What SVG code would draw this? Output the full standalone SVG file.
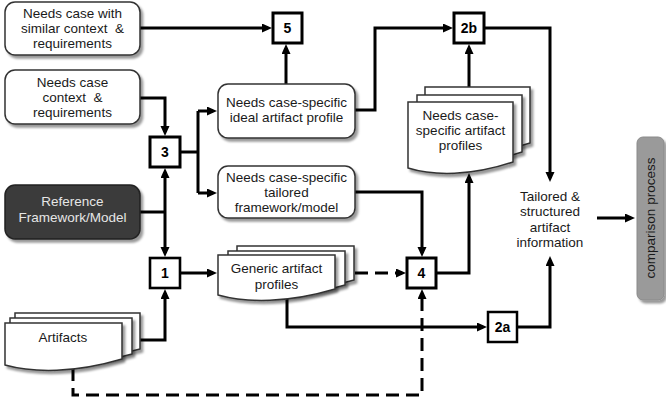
<svg xmlns="http://www.w3.org/2000/svg" width="666" height="404" viewBox="0 0 666 404">
<defs>
<filter id="sh" x="-10%" y="-10%" width="130%" height="140%">
<feDropShadow dx="2.5" dy="3" stdDeviation="1.3" flood-color="#000" flood-opacity="0.4"/>
</filter>
<marker id="ah" markerUnits="userSpaceOnUse" markerWidth="11" markerHeight="10" refX="6" refY="4.5" orient="auto-start-reverse">
<path d="M0,0 L10,4.5 L0,9 z" fill="#000"/>
</marker>
<style>
.t{font-family:"Liberation Sans",Arial,sans-serif;font-size:13.5px;fill:#1a1a1a;text-anchor:middle;white-space:pre}
.w{fill:#e6e6e6}
.n{font-family:"Liberation Sans",Arial,sans-serif;font-size:14px;font-weight:bold;fill:#000;text-anchor:middle}
.rb{fill:#fff;stroke:#333;stroke-width:1.5;filter:url(#sh)}
.dk{fill:#3a3a3a;stroke:#222;stroke-width:1.5;filter:url(#sh)}
.doc{fill:#fff;stroke:#333;stroke-width:1.5;filter:url(#sh)}
.nb{fill:#fff;stroke:#000;stroke-width:3}
.c{fill:none;stroke:#000;stroke-width:3}
.d{fill:none;stroke:#000;stroke-width:3;stroke-dasharray:13 7}
</style>
</defs>

<g id="connectors">
<path class="c" d="M140,28 H268" marker-end="url(#ah)"/>
<path class="c" d="M140,98 H165 V132" marker-end="url(#ah)"/>
<path class="c" d="M180,152 H198"/>
<path class="c" d="M198,111 V193"/>
<path class="c" d="M198,111 H213" marker-end="url(#ah)"/>
<path class="c" d="M198,193 H213" marker-end="url(#ah)"/>
<path class="c" d="M140,212 H165"/>
<path class="c" d="M165,172 V253" marker-start="url(#ah)" marker-end="url(#ah)"/>
<path class="c" d="M140,340 H165 V293" marker-end="url(#ah)"/>
<path class="c" d="M180,273 H213" marker-end="url(#ah)"/>
<path class="c" d="M286,84 V48" marker-end="url(#ah)"/>
<path class="c" d="M355,110 H375 V28 H449" marker-end="url(#ah)"/>
<path class="c" d="M355,192 H422 V253" marker-end="url(#ah)"/>
<path class="d" d="M355,273 H402" marker-end="url(#ah)"/>
<path class="c" d="M436,273 H469 V177" marker-end="url(#ah)"/>
<path class="c" d="M469,87 V48" marker-end="url(#ah)"/>
<path class="c" d="M484,28 H550 V178" marker-end="url(#ah)"/>
<path class="c" d="M287,297 V327 H483" marker-end="url(#ah)"/>
<path class="c" d="M517,327 H550 V260" marker-end="url(#ah)"/>
<path class="d" d="M73,368 V395 H422 V293" marker-end="url(#ah)"/>
<path class="c" d="M597,218 H631" marker-end="url(#ah)"/>
</g>

<g id="similar">
<rect class="rb" x="5" y="2" width="135" height="53" rx="10"/>
<text class="t" x="72.5" y="18">Needs case with</text>
<text class="t" x="72.5" y="33">similar context  &amp;</text>
<text class="t" x="72.5" y="48">requirements</text>
</g>

<g id="context">
<rect class="rb" x="5" y="70" width="135" height="54" rx="10"/>
<text class="t" x="72.5" y="87">Needs case</text>
<text class="t" x="72.5" y="102">context  &amp;</text>
<text class="t" x="72.5" y="117">requirements</text>
</g>

<g id="reference">
<rect class="dk" x="5" y="185" width="135" height="54" rx="10"/>
<text class="t w" x="72.5" y="206">Reference</text>
<text class="t w" x="72.5" y="222">Framework/Model</text>
</g>

<g id="artifacts">
<path class="doc" d="M15,313 H140 V349 C90,363 46,363 15,355 Z"/>
<path class="doc" d="M10,318 H132 V354 C83,368 40,368 10,360 Z"/>
<path class="doc" d="M5,323 H122 V359 C75,373 34,373 5,365 Z"/>
<text class="t" x="63" y="342">Artifacts</text>
</g>

<g id="ideal">
<rect class="rb" x="218" y="84" width="137" height="54" rx="10"/>
<text class="t" x="286.5" y="107">Needs case-specific</text>
<text class="t" x="286.5" y="122">ideal artifact profile</text>
</g>

<g id="tailored">
<rect class="rb" x="218" y="166" width="137" height="52" rx="10"/>
<text class="t" x="286.5" y="182">Needs case-specific</text>
<text class="t" x="286.5" y="197">tailored</text>
<text class="t" x="286.5" y="212">framework/model</text>
</g>

<g id="generic">
<path class="doc" d="M237,246 H354 V280 C307,294 266,294 237,286 Z"/>
<path class="doc" d="M228,251 H345 V285 C298,299 257,299 228,291 Z"/>
<path class="doc" d="M218,255 H335 V289 C288,303 247,303 218,295 Z"/>
<text class="t" x="276.5" y="273">Generic artifact</text>
<text class="t" x="276.5" y="289">profiles</text>
</g>

<g id="specific">
<path class="doc" d="M425,87 H530 V143 C488,157 451,157 425,149 Z"/>
<path class="doc" d="M417,95 H522 V152 C480,166 443,166 417,158 Z"/>
<path class="doc" d="M408,102 H513 V162 C471,176 434,176 408,168 Z"/>
<text class="t" x="460.5" y="120">Needs case-</text>
<text class="t" x="460.5" y="135">specific artifact</text>
<text class="t" x="460.5" y="150">profiles</text>
</g>

<g id="info">
<text class="t" x="550" y="201">Tailored &amp;</text>
<text class="t" x="550" y="216">structured</text>
<text class="t" x="550" y="232">artifact</text>
<text class="t" x="550" y="247">information</text>
</g>

<g id="comparison">
<rect x="637" y="137" width="27" height="163" rx="6" fill="#9a9a9a" stroke="#8a8a8a" stroke-width="1" filter="url(#sh)"/>
<text class="t" transform="translate(655,218) rotate(-90)" x="0" y="0">comparison process</text>
</g>

<g id="n5"><rect class="nb" x="273" y="13" width="29" height="30"/><text class="n" x="287.5" y="33">5</text></g>
<g id="n2b"><rect class="nb" x="454" y="13" width="30" height="30"/><text class="n" x="469" y="33">2b</text></g>
<g id="n3"><rect class="nb" x="150" y="137" width="30" height="30"/><text class="n" x="165" y="157">3</text></g>
<g id="n1"><rect class="nb" x="150" y="258" width="30" height="30" style="stroke-width:2.6"/><text class="n" x="165" y="278">1</text></g>
<g id="n4"><rect class="nb" x="407" y="258" width="29" height="30"/><text class="n" x="421.5" y="278">4</text></g>
<g id="n2a"><rect class="nb" x="488" y="312" width="29" height="30" style="stroke-width:2.5"/><text class="n" x="502.5" y="332">2a</text></g>
</svg>
